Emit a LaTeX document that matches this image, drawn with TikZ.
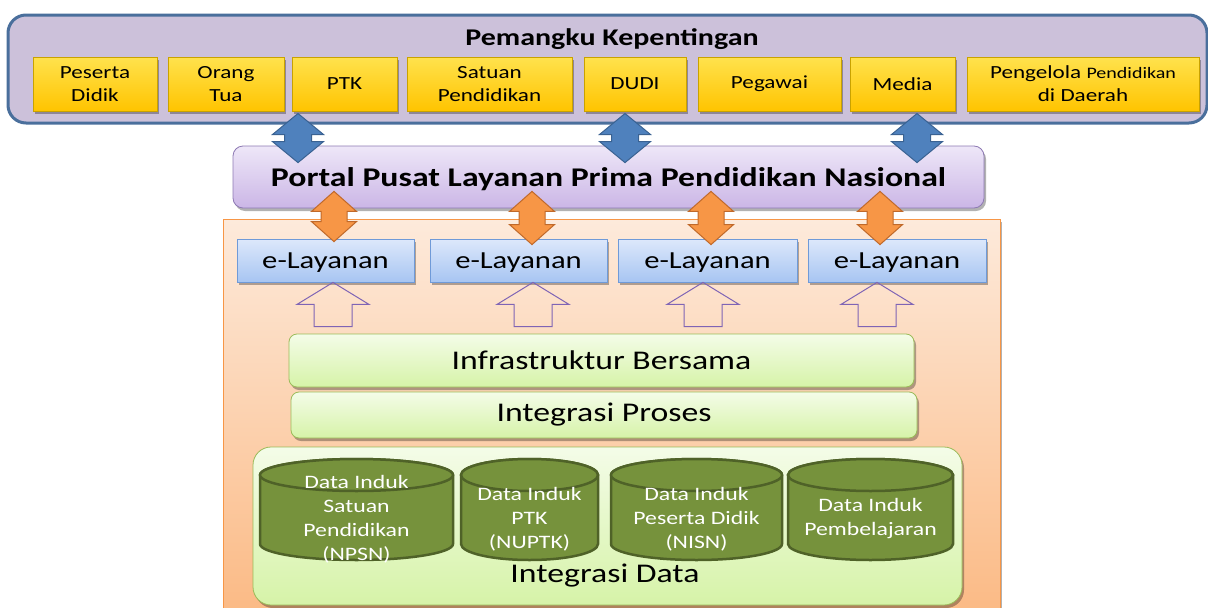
\documentclass[tikz,border=0pt]{standalone}
\usepackage{fontspec}
\setmainfont{Carlito}[FakeStretch=1.25]
\usepackage{tikz}
\usetikzlibrary{positioning, calc, shadows}
\definecolor{stakefill}{HTML}{CCC1DA}
\definecolor{stakeline}{HTML}{4A6F9C}
\definecolor{itemtop}{HTML}{FFE24D}
\definecolor{itembot}{HTML}{FFC400}
\definecolor{itemline}{HTML}{C9A200}
\definecolor{portaltop}{HTML}{EEE7F8}
\definecolor{portalbot}{HTML}{CBB6E6}
\definecolor{portalline}{HTML}{8D79B3}
\definecolor{servtop}{HTML}{FDEADB}
\definecolor{servbot}{HTML}{FBBA85}
\definecolor{servline}{HTML}{F79646}
\definecolor{eltop}{HTML}{DDE8FB}
\definecolor{elbot}{HTML}{A7C5F2}
\definecolor{elline}{HTML}{6F9AD8}
\definecolor{greentop}{HTML}{F4FCE8}
\definecolor{greenbot}{HTML}{D6F3A8}
\definecolor{greenline}{HTML}{9BBB59}
\definecolor{olive}{HTML}{76923C}
\definecolor{oliveline}{HTML}{4F6228}
\definecolor{bluearr}{HTML}{4F81BD}
\definecolor{bluearrline}{HTML}{3A6292}
\definecolor{orangearr}{HTML}{F79646}
\definecolor{orangearrline}{HTML}{C0692A}
\definecolor{hollowline}{HTML}{7F64B5}
\tikzset{softshadow/.style={drop shadow={shadow xshift=2pt,shadow yshift=-3pt,opacity=.3,fill=black}},
         stakebox/.style={rectangle,draw=stakeline,line width=3pt,fill=stakefill,rounded corners=18pt,minimum width=1199pt,minimum height=108pt},
         stakeitem/.style={rectangle,draw=itemline,line width=.6pt,top color=itemtop,bottom color=itembot,align=center,minimum height=54pt,inner sep=0pt,softshadow,font=\fontsize{18.5}{23}\selectfont},
         portal/.style={rectangle,draw=portalline,line width=.8pt,top color=portaltop,bottom color=portalbot,rounded corners=10pt,minimum width=751pt,minimum height=62pt,text depth=0pt,softshadow,font=\fontsize{27}{32}\selectfont\bfseries},
         service/.style={rectangle,draw=servline,line width=.8pt,top color=servtop,bottom color=servbot,minimum width=777pt,minimum height=393pt,softshadow},
         elayanan/.style={rectangle,draw=elline,line width=.8pt,top color=eltop,bottom color=elbot,minimum height=43pt,inner sep=0pt,text depth=0pt,softshadow,font=\fontsize{24.5}{28}\selectfont},
         tier/.style={rectangle,draw=greenline,line width=.8pt,top color=greentop,bottom color=greenbot,rounded corners=8pt,softshadow,font=\fontsize{27}{32}\selectfont},
         cylbody/.style={draw=oliveline,line width=2.5pt,fill=olive},
         cyltext/.style={align=center,text=white,inner sep=0pt,font=\fontsize{19}{24}\selectfont},
         head w/.store in=\ahw, shaft w/.store in=\asw, head l/.store in=\ahl,
         bluearrow/.style={fill=bluearr,draw=bluearrline,line width=1pt,line join=miter,head w=25.5,shaft w=13.5,head l=21},
         orangearrow/.style={fill=orangearr,draw=orangearrline,line width=1pt,line join=miter,head w=22.5,shaft w=13,head l=20},
         uparrow/.style={draw=hollowline,line width=1pt,head w=36,shaft w=19,head l=22}}
% two-headed block arrow: style, x, upper anchor, lower anchor, overlap up, overlap down
\newcommand{\twoway}[6]{%
  \path[#1] let \p1=(#3), \p2=(#4), \n1={\y1+#5}, \n2={\y2-#6} in
    (#2,\n1) -- ++(\ahw,-\ahl) -- ++(\asw-\ahw,0) -- (#2+\asw,\n2+\ahl) -- ++(\ahw-\asw,0)
    -- (#2,\n2) -- ++(-\ahw,\ahl) -- ++(\ahw-\asw,0) -- (#2-\asw,\n1-\ahl) -- ++(\asw-\ahw,0) -- cycle;}
% hollow arrow pointing up: style, x, tip anchor, base anchor, gap
\newcommand{\upway}[5]{%
  \path[#1] let \p1=(#3), \p2=(#4), \n1={\y1}, \n2={\y2+#5} in
    (#2,\n1) -- ++(\ahw,-\ahl) -- ++(\asw-\ahw,0) -- (#2+\asw,\n2) -- (#2-\asw,\n2)
    -- (#2-\asw,\n1-\ahl) -- ++(\asw-\ahw,0) -- cycle;}
% database cylinder: name, left x, right x, text
\newcommand{\datacyl}[4]{%
  \pgfmathsetmacro{\cylx}{(#2+#3)/2}\pgfmathsetmacro{\cylr}{(#3-#2)/2}
  \path[cylbody] (#2,-475) -- (#2,-544) arc[start angle=180,end angle=360,x radius=\cylr pt,y radius=16pt]
    -- (#3,-475) arc[start angle=0,end angle=180,x radius=\cylr pt,y radius=16pt] -- cycle;
  \path[cylbody] (\cylx,-475) ellipse[x radius=\cylr pt,y radius=16pt];
  \node[cyltext] (#1) at (\cylx,-519) {#4};}

\begin{document}
\begin{tikzpicture}[x=1pt,y=1pt]
  \useasboundingbox (0,0) rectangle (1208,-608);
  % stakeholders
  \node (stake) [stakebox] at (607.5,-69) {};
  \node (title) at (612,-39) {\fontsize{24}{28}\selectfont\bfseries Pemangku Kepentingan};
  \node (s1) [stakeitem,minimum width=124pt] at (95,-84) {Peserta\\Didik};
  \node (s2) [stakeitem,minimum width=116pt] at (226,-84) {Orang\\Tua};
  \node (s3) [stakeitem,minimum width=105pt] at (344.5,-84) {PTK};
  \node (s4) [stakeitem,minimum width=165pt] at (489.5,-84) {Satuan\\Pendidikan};
  \node (s5) [stakeitem,minimum width=102pt] at (635,-84) {DUDI};
  \node (s6) [stakeitem,minimum width=143pt] at (769.5,-84) {Pegawai};
  \node (s7) [stakeitem,minimum width=105pt] at (902.5,-84) {Media};
  \node (s8) [stakeitem,minimum width=232pt] at (1083,-84) {Pengelola {\fontsize{16}{20}\selectfont Pendidikan}\\di Daerah};
  % portal and services
  \node (portal) [portal] at (608.5,-177) {Portal Pusat Layanan Prima Pendidikan Nasional};
  \node (svc) [service] at (611.5,-415.5) {};
  \node (e1) [elayanan,minimum width=177pt] at (325.5,-260.5) {e-Layanan};
  \node (e2) [elayanan,minimum width=177pt] at (518.5,-260.5) {e-Layanan};
  \node (e3) [elayanan,minimum width=179pt] at (707.5,-260.5) {e-Layanan};
  \node (e4) [elayanan,minimum width=178pt] at (897,-260.5) {e-Layanan};
  \node (infra) [tier,minimum width=625pt,minimum height=53pt] at (601.5,-360.5) {Infrastruktur Bersama};
  \node (proses) [tier,minimum width=626pt,minimum height=46pt] at (604,-415) {Integrasi Proses};
  \node (data) [tier,rounded corners=18pt,minimum width=709pt,minimum height=158pt] at (607.5,-526) {};
  \node (datatitle) at (605,-576) {\fontsize{27}{32}\selectfont Integrasi Data};
  % data stores
  \datacyl{npsn}{260}{453}{Data Induk\\Satuan\\Pendidikan\\(NPSN)}
  \datacyl{nuptk}{461}{598}{Data Induk\\PTK\\(NUPTK)}
  \datacyl{nisn}{611}{782}{Data Induk\\Peserta Didik\\(NISN)}
  \datacyl{ajar}{788}{953}{Data Induk\\Pembelajaran}
  % arrows
  \twoway{bluearrow}{298}{stake.south}{portal.north}{11}{17}
  \twoway{bluearrow}{625}{stake.south}{portal.north}{11}{17}
  \twoway{bluearrow}{917}{stake.south}{portal.north}{11}{17}
  \twoway{orangearrow}{334}{portal.south}{e1.north}{17}{3}
  \twoway{orangearrow}{532}{portal.south}{e2.north}{17}{6}
  \twoway{orangearrow}{711}{portal.south}{e3.north}{17}{6}
  \twoway{orangearrow}{880}{portal.south}{e4.north}{17}{6}
  \upway{uparrow}{333}{e1.south}{infra.north}{7}
  \upway{uparrow}{533}{e2.south}{infra.north}{7}
  \upway{uparrow}{703}{e3.south}{infra.north}{7}
  \upway{uparrow}{877}{e4.south}{infra.north}{7}
\end{tikzpicture}
\end{document}
